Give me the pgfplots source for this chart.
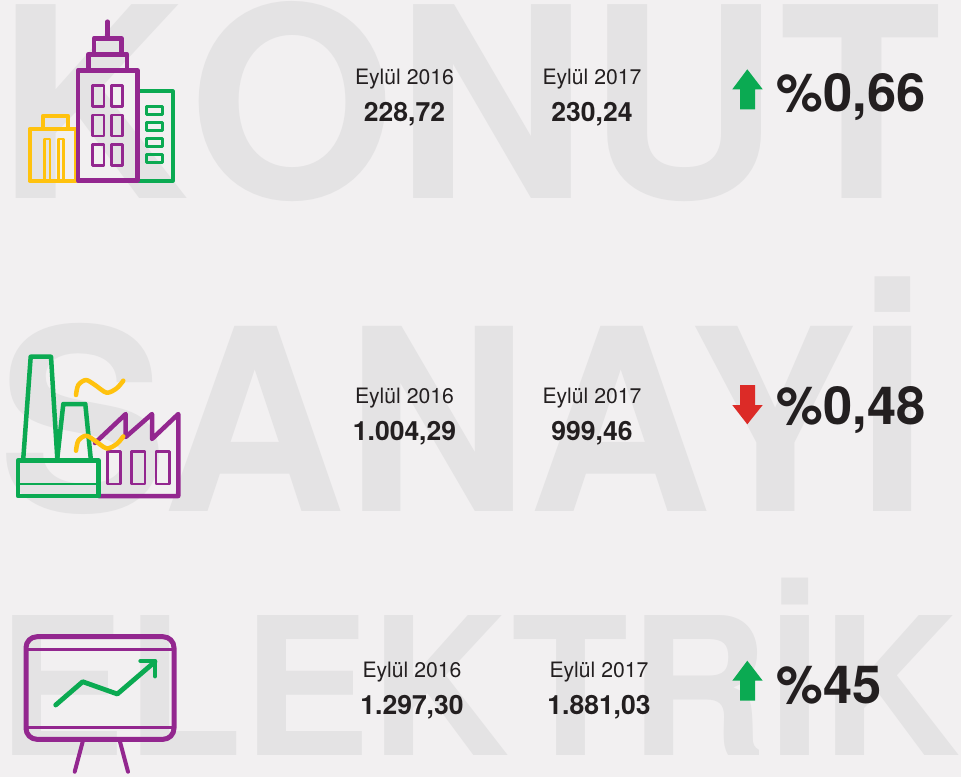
\documentclass[border=0pt]{standalone}
\usepackage{fontspec}
\setmainfont{TeX Gyre Heros}
\usepackage{pgfplots}
\pgfplotsset{compat=1.18}
\definecolor{bgc}{HTML}{F2F0F1}
\definecolor{ghost}{HTML}{E4E3E4}
\definecolor{ink}{HTML}{231F20}
\definecolor{purp}{HTML}{93278F}
\definecolor{grn}{HTML}{0BAA52}
\definecolor{yel}{HTML}{FFC20E}
\definecolor{redc}{HTML}{DC2B27}
% closed outline in picture pixels
\newcommand{\rectp}[6]{\addplot[#1, line width=#2pt, line join=round] coordinates {(#3,#4)(#5,#4)(#5,#6)(#3,#6)} -- cycle;}
\newcommand{\linep}[3]{\addplot[#1, line width=#2pt, line join=round, line cap=round] coordinates {#3};}
\newcommand{\ghostnode}[4]{\node[overlay, anchor=base west, inner sep=0pt, text=ghost, font=\fontsize{#4}{#4}\selectfont\bfseries] at (axis cs:#1,#2) {#3};}
\newcommand{\period}[3]{\node[anchor=base, inner sep=0pt, text=ink, font=\fontsize{21.2}{24}\selectfont] at (axis cs:#1,#2) {#3};}
\newcommand{\val}[3]{\node[anchor=base, inner sep=0pt, text=ink, font=\fontsize{26.5}{30}\selectfont\bfseries] at (axis cs:#1,#2) {#3};}
\newcommand{\pct}[3]{\node[anchor=base west, inner sep=0pt, text=ink, font=\fontsize{52.5}{56}\selectfont\bfseries] at (axis cs:#1,#2) {#3};}
\begin{document}
\begin{tikzpicture}
\begin{axis}[
    scale only axis,
    width=961pt, height=777pt,
    xmin=0, xmax=961, ymin=0, ymax=777,
    y dir=reverse,
    hide axis,
    clip=true
  ]
  \addplot[fill=bgc, draw=none] coordinates {(0,0)(961,0)(961,777)(0,777)} -- cycle;

  % background words
  \ghostnode{-3.5}{198}{\addfontfeature{Kerning=Off}KONUT}{266}
  \ghostnode{-2}{511.7}{SANAYİ}{254}
  \ghostnode{-3}{755}{ELEKTRİK}{192}

  % buildings
  \rectp{yel}{4}{29.5}{129}{76}{180.7}
  \rectp{yel}{4}{43}{115.7}{68}{129}
  \rectp{yel}{2.5}{44.7}{139}{50}{180}
  \rectp{yel}{2.5}{58.3}{139}{63.3}{180}
  \rectp{grn}{4}{137}{91.3}{172.7}{180.7}
  \rectp{grn}{2.6}{146.3}{106.7}{162.7}{114.7}
  \rectp{grn}{2.6}{146.3}{122.7}{162.7}{130.7}
  \rectp{grn}{2.6}{146.3}{138.7}{162.7}{146.7}
  \rectp{grn}{2.6}{146.3}{154.7}{162.7}{162.7}
  \rectp{purp}{4.5}{78}{70.3}{137.3}{180.7}
  \rectp{purp}{4.5}{88.3}{54.3}{127}{70.3}
  \rectp{purp}{4.5}{94}{38.3}{121.3}{54.3}
  \linep{purp}{4.5}{(107.5,21.7)(107.5,38)}
  \rectp{purp}{2.6}{92.7}{85.3}{104}{106.7}
  \rectp{purp}{2.6}{111.3}{85.3}{122.7}{106.7}
  \rectp{purp}{2.6}{92.7}{115}{104}{136}
  \rectp{purp}{2.6}{111.3}{115}{122.7}{136}
  \rectp{purp}{2.6}{92.7}{144.3}{104}{165.3}
  \rectp{purp}{2.6}{111.3}{144.3}{122.7}{165.3}

  % factory
  \linep{purp}{4.5}{(95,443)(125.7,414)(125.7,437)(152,414)(152,439)(178.3,414)(178.3,496)(98.7,496)}
  \rectp{purp}{2.6}{107.3}{451.7}{120.7}{484}
  \rectp{purp}{2.6}{131.7}{451.7}{145}{484}
  \rectp{purp}{2.6}{156}{451.7}{169.3}{484}
  \linep{grn}{4.5}{(23.3,458.3)(30.7,356.7)(51,356.7)(57.3,458.3)}
  \linep{grn}{4.5}{(57.3,458.3)(63.3,404)(85.3,404)(90.7,458.3)}
  \rectp{grn}{4.5}{18}{460.7}{98.7}{496}
  \linep{grn}{2.4}{(18,484)(98.7,484)}
  \linep{yel,smooth}{4.5}{(76,395)(78.3,385)(86,380)(95,385)(106.7,392.7)(116.7,388.3)(123.3,380.7)}
  \linep{yel,smooth}{4.5}{(76,450.7)(78.3,440.7)(86,435.7)(95,440.7)(106.7,448.4)(116.7,444)(123.3,436.4)}

  % presentation board
  \rectp{purp,rounded corners=11pt}{5}{26}{636.7}{174}{739.3}
  \linep{purp}{2.6}{(26,649.3)(174,649.3)}
  \linep{purp}{2.6}{(26,727.3)(174,727.3)}
  \linep{purp}{4}{(82.7,741.7)(74.7,771.7)}
  \linep{purp}{4}{(120,741.7)(128,771.7)}
  \linep{grn}{4.8}{(55.7,705)(82.7,681.7)(117.3,694)(155,661.7)}
  \linep{grn}{4.8}{(140.7,661)(155,661)(155,676)}

  % change arrows
  \addplot[fill=grn, draw=none] coordinates {(747.3,69.3)(762.7,89.3)(755,89.3)(755,109.3)(740,109.3)(740,89.3)(732.3,89.3)} -- cycle;
  \addplot[fill=redc, draw=none] coordinates {(747.3,424.3)(762.7,405)(755,405)(755,385)(740,385)(740,405)(732.3,405)} -- cycle;
  \addplot[fill=grn, draw=none] coordinates {(747.3,660.7)(762.7,680.7)(755,680.7)(755,700.7)(740,700.7)(740,680.7)(732.3,680.7)} -- cycle;

  % figures
  \period{404.5}{84}{Eylül 2016}
  \period{592}{84}{Eylül 2017}
  \val{404.5}{121}{228,72}
  \val{592}{121}{230,24}
  \pct{776.5}{111}{\%0,66}

  \period{404.5}{403}{Eylül 2016}
  \period{592}{403}{Eylül 2017}
  \val{404.5}{440}{1.004,29}
  \val{592}{440}{999,46}
  \pct{776.5}{424}{\%0,48}

  \period{412}{677}{Eylül 2016}
  \period{599}{677}{Eylül 2017}
  \val{412}{714}{1.297,30}
  \val{599}{714}{1.881,03}
  \pct{776.5}{703}{\%45}
\end{axis}
\end{tikzpicture}
\end{document}
